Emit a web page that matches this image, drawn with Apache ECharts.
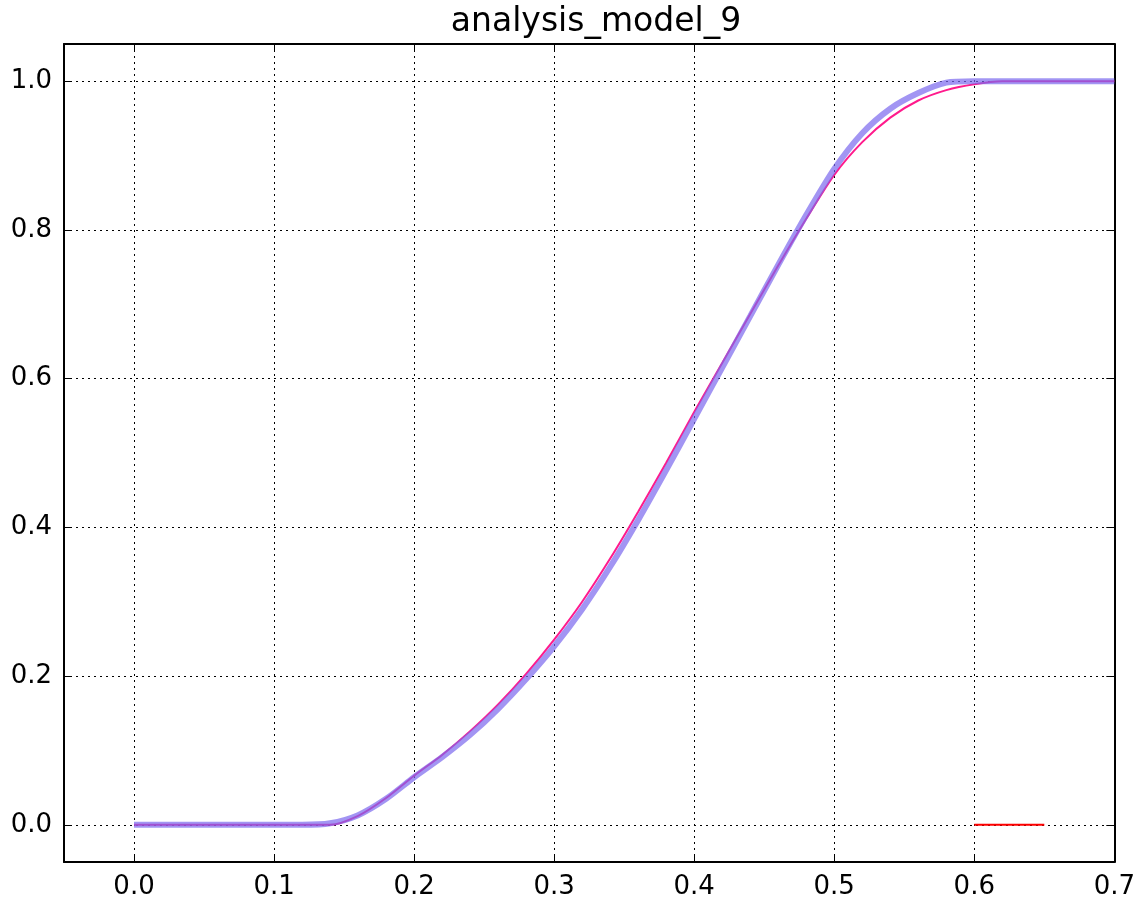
<!DOCTYPE html>
<html>
<head>
    <meta charset="UTF-8">
    <title>analysis_model_9</title>
    <script type="text/javascript" src="https://cdn.jsdelivr.net/npm/echarts@6/dist/echarts.min.js"></script>
    <style>
        body { margin: 0; background: #fff; }
        #main { width: 1138px; height: 901px; }
    </style>
</head>
<body>
<div id="main"></div>
<script type="text/javascript">
    // ticks
    var xTicks = [0.0, 0.1, 0.2, 0.3, 0.4, 0.5, 0.6, 0.7];
    var yTicks = [0.0, 0.2, 0.4, 0.6, 0.8, 1.0];

    // shared x positions, step 0.02
    var xs = [0.00, 0.02, 0.04, 0.06, 0.08, 0.10, 0.12, 0.14, 0.16, 0.18,
              0.20, 0.22, 0.24, 0.26, 0.28, 0.30, 0.32, 0.34, 0.36, 0.38,
              0.40, 0.42, 0.44, 0.46, 0.48, 0.50, 0.52, 0.54, 0.56, 0.58,
              0.60, 0.62, 0.64, 0.66, 0.68, 0.70];

    // pink curve (thin)
    var pinkY = [0, 0, 0, 0, 0, 0, 0, 0.0, 0.012, 0.036,
                 0.066, 0.094, 0.126, 0.162, 0.203, 0.249, 0.300, 0.358, 0.421, 0.487,
                 0.555, 0.621, 0.687, 0.752, 0.815, 0.874, 0.918, 0.951, 0.974, 0.988,
                 0.996, 1.0, 1.0, 1.0, 1.0, 1.0];

    // blue curve (thick, transparent)
    var blueY = [0, 0, 0, 0, 0, 0, 0, 0.002, 0.013, 0.035,
                 0.064, 0.091, 0.121, 0.156, 0.196, 0.240, 0.290, 0.347, 0.410, 0.477,
                 0.546, 0.615, 0.684, 0.753, 0.820, 0.882, 0.930, 0.963, 0.984, 0.998,
                 1.0, 1.0, 1.0, 1.0, 1.0, 1.0];

    // short red segment
    var redX = [0.6, 0.65];
    var redY = [0.0, 0.0];

    function pairs(a, b) {
        var out = [];
        for (var i = 0; i < a.length; i++) out.push([a[i], b[i]]);
        return out;
    }

    var font = 'DejaVu Sans';
    var myChart = echarts.init(document.getElementById('main'));

    function xAxisCfg(pos, labels) {
        return {
            type: 'value', position: pos, min: -0.05, max: 0.7,
            axisLine: { show: true, onZero: false, lineStyle: { color: '#000', width: 2 } },
            axisTick: { show: true, inside: true, length: 8, customValues: xTicks, lineStyle: { color: '#000', width: 1 } },
            axisLabel: { show: labels, customValues: xTicks, margin: 12, color: '#000', fontSize: 26, fontFamily: font,
                formatter: function (v) { return v.toFixed(1); } },
            splitLine: { show: labels, lineStyle: { color: '#000', type: [2, 4], width: 1 } }
        };
    }
    function yAxisCfg(pos, labels) {
        return {
            type: 'value', position: pos, min: -0.05, max: 1.05,
            axisLine: { show: true, onZero: false, lineStyle: { color: '#000', width: 2 } },
            axisTick: { show: true, inside: true, length: 8, customValues: yTicks, lineStyle: { color: '#000', width: 1 } },
            axisLabel: { show: labels, customValues: yTicks, margin: 12, color: '#000', fontSize: 26, fontFamily: font,
                formatter: function (v) { return v.toFixed(1); } },
            splitLine: { show: labels, lineStyle: { color: '#000', type: [2, 4], width: 1 } }
        };
    }

    var option = {
        backgroundColor: '#fff',
        animation: false,
        title: {
            text: 'analysis_model_9',
            left: 591, textAlign: 'center', top: 1,
            textStyle: { color: '#000', fontSize: 33, fontWeight: 'normal', fontFamily: font }
        },
        grid: { left: 64, right: 20, top: 44, bottom: 39 },
        xAxis: [xAxisCfg('bottom', true), xAxisCfg('top', false)],
        yAxis: [yAxisCfg('left', true), yAxisCfg('right', false)],
        series: [
            {
                name: 'pink', type: 'line', data: pairs(xs, pinkY),
                showSymbol: false, smooth: 0.25,
                lineStyle: { color: '#ff1a8c', width: 2 }, z: 3
            },
            {
                name: 'blue', type: 'line', data: pairs(xs, blueY),
                showSymbol: false, smooth: 0.25,
                lineStyle: { color: '#7b68ee', width: 6, opacity: 0.7 }, z: 4
            },
            {
                name: 'red', type: 'line', data: pairs(redX, redY),
                showSymbol: false,
                lineStyle: { color: '#ff0000', width: 2 }, z: 5
            }
        ]
    };

    myChart.setOption(option);
</script>
</body>
</html>
